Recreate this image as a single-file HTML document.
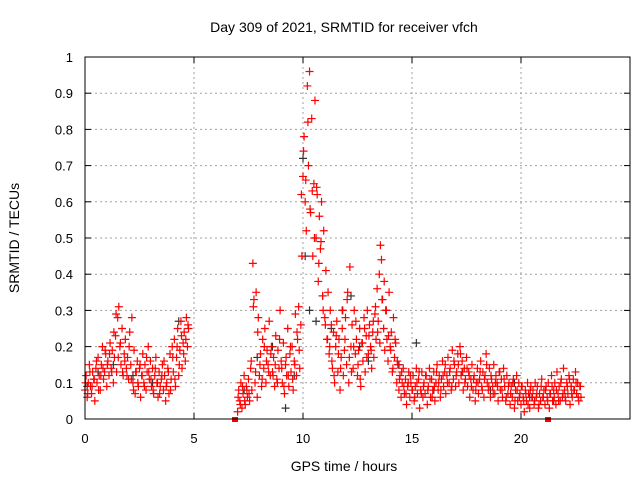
<!DOCTYPE html>
<html><head><meta charset="utf-8"><style>
html,body{margin:0;padding:0;background:#fff;width:640px;height:480px;overflow:hidden}
svg{display:block;font-family:"Liberation Sans",sans-serif}
</style></head><body>
<svg id="chart" width="640" height="480" viewBox="0 0 640 480" xmlns="http://www.w3.org/2000/svg">
<text x="344" y="32" font-size="14" text-anchor="middle">Day 309 of 2021, SRMTID for receiver vfch</text>
<text x="344" y="471" font-size="14" text-anchor="middle">GPS time / hours</text>
<text transform="translate(19,238) rotate(-90)" font-size="14" text-anchor="middle">SRMTID / TECUs</text>
<g id="grid"></g>
<g id="ticks"></g>
<g id="black"></g>
<g id="red"></g>
<rect x="85" y="57" width="545" height="362" fill="none" stroke="#000" stroke-width="1"/>
</svg>
<script>
const xTicks=[0,5,10,15,20];
const yTicks=[0,0.1,0.2,0.3,0.4,0.5,0.6,0.7,0.8,0.9,1];
const yTickLabels=["0","0.1","0.2","0.3","0.4","0.5","0.6","0.7","0.8","0.9","1"];
const segAStart=0, segBStart=7, step=0.05;
const seg2AStart=0.025, seg2BStart=7.025, step2=0.1;
const redA=[0.08,0.12,0.06,0.1,0.15,0.09,0.07,0.13,0.11,0.05,0.14,
0.1,0.17,0.12,0.08,0.15,0.2,0.11,0.13,0.18,0.09,
0.16,0.12,0.21,0.14,0.19,0.1,0.17,0.23,0.13,0.28,
0.31,0.2,0.15,0.25,0.12,0.18,0.22,0.14,0.17,0.11,
0.24,0.15,0.28,0.1,0.19,0.07,0.13,0.16,0.09,0.14,
0.06,0.12,0.18,0.1,0.15,0.08,0.13,0.2,0.11,0.16,
0.09,0.14,0.07,0.12,0.17,0.1,0.06,0.13,0.09,0.11,
0.15,0.08,0.12,0.05,0.1,0.14,0.07,0.18,0.11,0.2,
0.13,0.22,0.09,0.17,0.25,0.12,0.19,0.27,0.14,0.21,
0.24,0.16,0.28,0.2,0.25];
const redA2=[0.1,0.07,0.13,0.09,0.11,0.16,0.08,0.12,0.14,0.19,
0.15,0.18,0.13,0.24,0.29,0.17,0.21,0.13,0.16,0.12,
0.2,0.11,0.08,0.13,0.1,0.15,0.12,0.09,0.17,0.13,
0.11,0.08,0.14,0.1,0.07,0.12,0.16,0.09,0.13,0.08,
0.17,0.11,0.2,0.15,0.23,0.18,0.22,0.26];
const redB=[0.02,0.08,0.05,0.1,0.03,0.07,0.12,0.04,0.09,0.06,0.11,
0.05,0.14,0.08,0.43,0.33,0.1,0.35,0.06,0.28,0.12,
0.18,0.09,0.22,0.14,0.25,0.1,0.19,0.15,0.27,0.12,
0.2,0.13,0.17,0.09,0.23,0.11,0.19,0.14,0.3,0.16,
0.1,0.21,0.07,0.15,0.12,0.25,0.09,0.18,0.13,0.2,
0.08,0.16,0.29,0.12,0.22,0.31,0.14,0.26,0.45,0.67,
0.78,0.6,0.52,0.92,0.7,0.96,0.57,0.83,0.45,0.65,
0.88,0.5,0.62,0.38,0.56,0.47,0.6,0.34,0.52,0.28,
0.41,0.22,0.35,0.18,0.3,0.26,0.14,0.24,0.1,0.2,
0.27,0.13,0.22,0.08,0.17,0.25,0.12,0.19,0.28,0.15,
0.35,0.1,0.42,0.2,0.26,0.14,0.3,0.18,0.22,0.12,
0.19,0.25,0.09,0.21,0.16,0.28,0.13,0.23,0.3,0.18,
0.26,0.2,0.14,0.24,0.17,0.29,0.22,0.36,0.27,0.4,
0.48,0.44,0.33,0.25,0.19,0.3,0.22,0.16,0.35,0.2,
0.24,0.13,0.28,0.17,0.21,0.1,0.15,0.08,0.12,0.06,
0.1,0.14,0.07,0.11,0.04,0.09,0.13,0.06,0.1,0.08,
0.12,0.05,0.09,0.14,0.07,0.11,0.03,0.08,0.13,0.06,
0.1,0.07,0.12,0.04,0.09,0.14,0.06,0.11,0.08,0.13,
0.05,0.1,0.15,0.08,0.12,0.06,0.11,0.16,0.09,0.13,
0.07,0.12,0.17,0.1,0.14,0.08,0.19,0.11,0.15,0.09,
0.13,0.18,0.1,0.2,0.12,0.16,0.08,0.14,0.11,0.17,
0.09,0.13,0.06,0.11,0.15,0.08,0.12,0.05,0.1,0.14,
0.07,0.11,0.16,0.09,0.13,0.06,0.12,0.18,0.1,0.08,
0.14,0.06,0.11,0.09,0.15,0.07,0.12,0.1,0.05,0.13,
0.08,0.11,0.06,0.14,0.09,0.05,0.12,0.07,0.1,0.04,
0.09,0.06,0.11,0.03,0.08,0.12,0.05,0.1,0.07,0.04,
0.09,0.06,0.02,0.08,0.05,0.1,0.07,0.03,0.09,0.06,
0.08,0.04,0.1,0.06,0.09,0.03,0.07,0.05,0.11,0.06,
0.08,0.04,0.09,0.06,0.1,0.03,0.07,0.12,0.05,0.08,
0.1,0.04,0.13,0.07,0.09,0.05,0.11,0.06,0.14,0.08,
0.05,0.1,0.07,0.12,0.04,0.09,0.06,0.11,0.08,0.13,
0.07,0.1,0.05,0.09,0.06];
const redB2=[0.06,0.04,0.09,0.05,0.08,0.07,0.16,0.31,0.13,0.24,
0.15,0.11,0.2,0.16,0.13,0.18,0.12,0.15,0.1,0.22,
0.14,0.09,0.17,0.12,0.2,0.11,0.15,0.24,0.19,0.62,
0.74,0.66,0.82,0.58,0.63,0.5,0.64,0.43,0.49,0.3,
0.26,0.22,0.2,0.16,0.12,0.23,0.18,0.14,0.3,0.22,
0.33,0.17,0.13,0.2,0.27,0.15,0.11,0.21,0.25,0.17,
0.23,0.19,0.27,0.31,0.24,0.21,0.33,0.38,0.3,0.23,
0.19,0.14,0.22,0.16,0.11,0.13,0.09,0.07,0.1,0.12,
0.08,0.06,0.1,0.13,0.07,0.09,0.12,0.08,0.11,0.06,
0.09,0.13,0.1,0.08,0.12,0.15,0.1,0.13,0.09,0.16,
0.12,0.15,0.18,0.13,0.1,0.14,0.12,0.09,0.11,0.08,
0.1,0.13,0.08,0.11,0.15,0.09,0.12,0.07,0.1,0.09,
0.13,0.08,0.11,0.06,0.09,0.07,0.1,0.05,0.08,0.06,
0.09,0.05,0.07,0.04,0.08,0.06,0.05,0.07,0.04,0.09,
0.06,0.08,0.05,0.07,0.09,0.06,0.08,0.05,0.1,0.07,
0.06,0.09,0.11,0.07,0.08,0.1,0.06,0.09];
const blackTimes=[0.1,0.6,1.3,2.2,3.1,4.3,7.3,7.9,8.6,9.2,9.6,10.0,10.1,10.3,10.6,10.9,11.3,11.8,12.2,12.6,13.0,13.8,14.4,15.2,16.0,17.3,18.6,19.7,20.4,21.5,22.3];
const blackValues=[0.09,0.13,0.15,0.12,0.1,0.27,0.08,0.17,0.2,0.03,0.12,0.72,0.45,0.3,0.27,0.34,0.25,0.3,0.34,0.2,0.16,0.3,0.15,0.21,0.08,0.13,0.08,0.1,0.06,0.05,0.09];
const flagTimes=[6.88,21.24];

const NS="http://www.w3.org/2000/svg";
const X0=85,X1=630,Y0=419,Y1=57;
const xs=t=>X0+(t/25)*(X1-X0);
const ys=v=>Y0-v*(Y0-Y1);
function mk(tag,attrs,parent){const e=document.createElementNS(NS,tag);for(const k in attrs)e.setAttribute(k,attrs[k]);parent.appendChild(e);return e;}
const grid=document.getElementById('grid'),ticks=document.getElementById('ticks');
xTicks.forEach(t=>{
  const x=xs(t);
  if(t>0){const g=mk('line',{x1:x,x2:x,y1:Y1,y2:Y0,stroke:'#a0a0a0','stroke-dasharray':'2,3'},grid);
  
  }
  mk('line',{x1:x,x2:x,y1:Y0,y2:Y0-6,stroke:'#000'},ticks);
  mk('line',{x1:x,x2:x,y1:Y1,y2:Y1+6,stroke:'#000'},ticks);
  const l=mk('text',{x:x,y:443,'font-size':13,'text-anchor':'middle'},ticks);
  l.textContent=String(t);
  
  
});
yTicks.forEach((v,i)=>{
  const y=ys(v);
  if(v>0&&v<1){const g=mk('line',{x1:X0,x2:X1,y1:y,y2:y,stroke:'#a0a0a0','stroke-dasharray':'2,3'},grid);
  
  }
  mk('line',{x1:X0,x2:X0+6,y1:y,y2:y,stroke:'#000'},ticks);
  mk('line',{x1:X1,x2:X1-6,y1:y,y2:y,stroke:'#000'},ticks);
  const l=mk('text',{x:73,y:y+5,'font-size':13,'text-anchor':'end'},ticks);
  l.textContent=yTickLabels[i];
  
  
});
function plus(g,t,v,col){
  const x=xs(t),y=ys(v);
  const p=mk('path',{d:`M${x-4},${y}H${x+4}M${x},${y-4}V${y+4}`,stroke:col,'stroke-width':1.2,fill:'none'},g);
  
  
}
const black=document.getElementById('black'),red=document.getElementById('red');
blackTimes.forEach((t,i)=>plus(black,t,blackValues[i],'#333'));
redA.forEach((v,i)=>plus(red,segAStart+i*step,v,'#ff0000'));
redA2.forEach((v,i)=>plus(red,seg2AStart+i*step2,v,'#ff0000'));
redB.forEach((v,i)=>plus(red,segBStart+i*step,v,'#ff0000'));
redB2.forEach((v,i)=>plus(red,seg2BStart+i*step2,v,'#ff0000'));
flagTimes.forEach(t=>{
  const r=mk('rect',{x:xs(t)-3,y:Y0-2,width:6,height:5,fill:'#ff0000'},red);
  
  
});
</script>
</body></html>
